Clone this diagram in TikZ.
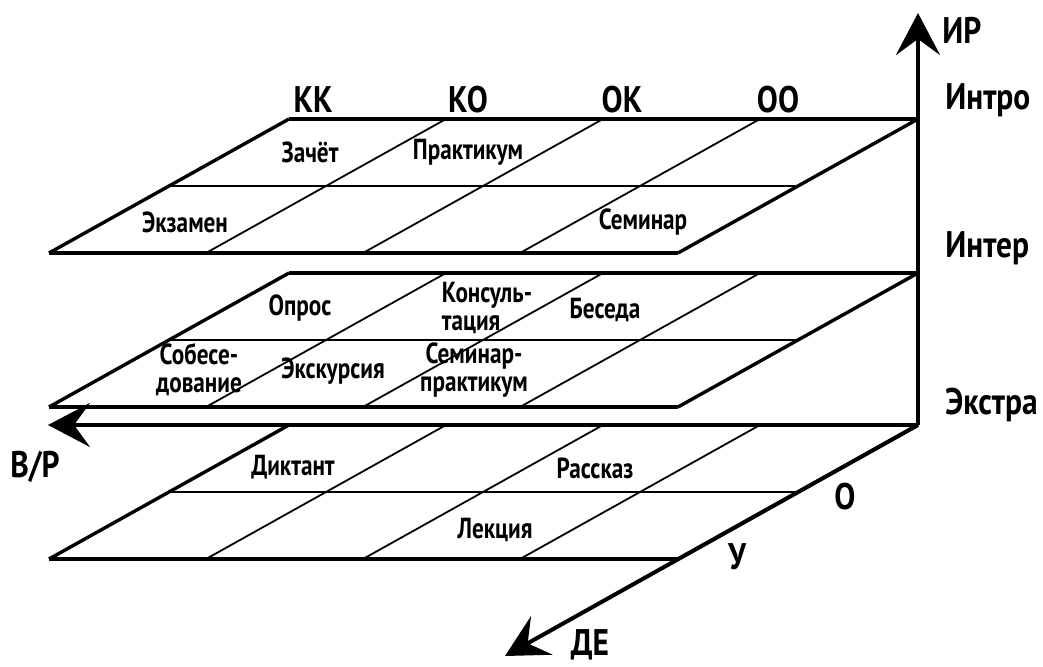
\documentclass[tikz,border=0pt]{standalone}
\usepackage{fontspec}
\setmainfont{PT Sans}[FakeStretch=0.85]
\newfontfamily\cellfont{PT Sans}[FakeStretch=0.8]
\usetikzlibrary{arrows.meta, calc}

\begin{document}
\begin{tikzpicture}[x=0.5pt, y=-0.5pt,
  edge/.style={line width=1.7pt},
  grid/.style={line width=0.9pt},
  axis/.style={line width=2pt, -{Stealth[length=21pt, width=22pt, inset=8pt]}},
  lbl/.style={font=\bfseries\fontsize{18.5}{18.5}\selectfont, inner sep=0pt},
  cell/.style={font=\cellfont\bfseries\fontsize{14.5}{14}\selectfont, inner sep=0pt}]
\useasboundingbox (0,0) rectangle (1043,667);
% Where the three axes meet, and their tips
\coordinate (o) at (918,425);
\coordinate (ir) at (918,13);
\coordinate (vr) at (48,425);
\coordinate (de) at (505,656);
% Three planes: Intro, Inter, Extra
\foreach \y in {119,273,425} {
  % outer edges
  \draw[edge] (289,\y) -- (918,\y);
  \draw[edge] (49,\y+134) -- (678,\y+134);
  \draw[edge] (289,\y) -- (49,\y+134);
  \draw[edge] (918,\y) -- (678,\y+134);
  % inner grid, two rows and four columns
  \draw[grid] (169,\y+67) -- (798,\y+67);
  \foreach \i in {1,2,3}
    \draw[grid] (289+157*\i,\y) -- (49+157*\i,\y+134);
}
% Axes
\draw[axis] (o) -- (ir);
\draw[axis] (o) -- (vr);
\draw[axis] (o) -- (de);
% Axis labels
\node[lbl, anchor=west] (irlbl) at (942,30) {ИР};
\node[lbl, anchor=west] (intro) at (945,100) {Интро};
\node[lbl, anchor=west] (inter) at (945,248) {Интер};
\node[lbl, anchor=west] (extra) at (945,405) {Экстра};
\node[lbl] (vrlbl) at (35,467) {В/Р};
\node[lbl] (olbl) at (845,497) {О};
\node[lbl] (ulbl) at (737,557) {У};
\node[lbl] (delbl) at (590,645) {ДЕ};
\node[lbl] (kk) at (313,100) {КК};
\node[lbl] (ko) at (468,100) {КО};
\node[lbl] (ok) at (622,100) {ОК};
\node[lbl] (oo) at (778,100) {ОО};
% Intro plane
\node[cell] (zachet) at (310,152) {Зачёт};
\node[cell] (prakt) at (468,152) {Практикум};
\node[cell] (ekzam) at (185,222) {Экзамен};
\node[cell] (semin) at (643,222) {Семинар};
% Inter plane
\node[cell] (opros) at (300,308) {Опрос};
\node[cell, align=left] (konsult) at (487,308) {Консуль-\\тация};
\node[cell] (beseda) at (605,310) {Беседа};
\node[cell, align=center] (sobes) at (199,370) {Собесе-\\дование};
\node[cell] (ekskur) at (333,371) {Экскурсия};
\node[cell, align=center] (sempr) at (474,370) {Семинар-\\практикум};
% Extra plane
\node[cell] (diktant) at (293,467) {Диктант};
\node[cell] (rasskaz) at (595,468) {Рассказ};
\node[cell] (lekc) at (495,530) {Лекция};
\end{tikzpicture}
\end{document}
